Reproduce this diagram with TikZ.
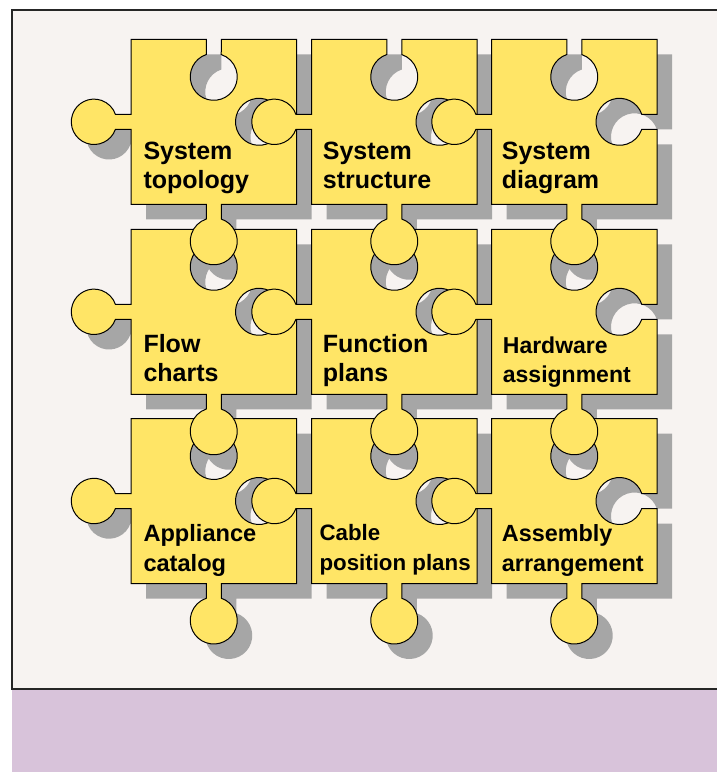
\documentclass[tikz,border=0pt]{standalone}
\usepackage{fontspec}
\setmainfont{Liberation Sans}
\definecolor{pieceY}{HTML}{FFE566}
\definecolor{shadowG}{HTML}{A6A6A6}
\definecolor{panelBG}{HTML}{F7F3F1}
\definecolor{stripL}{HTML}{D8C3DA}
\newcommand{\jigpath}{(0,0) -- (75.25,0) -- (75.25,-15.229)
  arc[start angle=108.61, end angle=431.39, radius=23.5pt] -- (90.25,0) -- (165.5,0)
  -- (165.5,-75) -- (150.271,-75)
  arc[start angle=18.61, end angle=341.39, radius=23.5pt] -- (165.5,-90) -- (165.5,-165)
  -- (90.25,-165) -- (90.25,-179.729)
  arc[start angle=71.39, end angle=-251.39, radius=23.5pt] -- (75.25,-165) -- (0,-165)
  -- (0,-90) -- (-15.575,-90)
  arc[start angle=-19.29, end angle=-340.71, radius=22.7pt] -- (0,-75) -- cycle}
\tikzset{
  piecefill/.style={fill=pieceY, draw=black, line width=1pt, line join=miter},
  shadowfill/.style={fill=shadowG},
  lbl/.style={anchor=base west, inner sep=0pt, font=\bfseries\fontsize{#1}{29.5}\selectfont},
  frameline/.style={draw=black!85, line width=1.4pt}
}
\begin{document}
\begin{tikzpicture}[x=1pt,y=1pt]
\useasboundingbox (0,0) rectangle (717,-772);
\fill[white] (0,0) rectangle (717,-772);
\fill[panelBG] (12,-10) rectangle (717,-689);
\fill[stripL] (12,-689) rectangle (717,-772);
\draw[frameline] (717,-10) -- (12,-10) -- (12,-689) -- (717,-689);
% shadows
\foreach \px/\py in {131/39.3, 311.5/39.3, 491.5/39.3, 131/229.3, 311.5/229.3, 491.5/229.3, 131/418.5, 311.5/418.5, 491.5/418.5}{
  \fill[shadowfill, shift={(\px+15,-\py-15)}] \jigpath;
}
% pieces: bottom row first, left to right
\foreach \py in {418.5, 229.3, 39.3}{
  \foreach \px in {131, 311.5, 491.5}{
    \filldraw[piecefill, shift={(\px,-\py)}] \jigpath;
  }
}
% labels
\node[lbl=25] (t1) at (143.3,-159.3) {\vtop{\hbox{System}\hbox{topology}}};
\node[lbl=25] (t2) at (322.7,-159.3) {\vtop{\hbox{System}\hbox{structure}}};
\node[lbl=25] (t3) at (501.7,-159.3) {\vtop{\hbox{System}\hbox{diagram}}};
\node[lbl=25] (t4) at (143.3,-352.3) {\vtop{\hbox{Flow}\hbox{charts}}};
\node[lbl=25] (t5) at (322.7,-352.3) {\vtop{\hbox{Function}\hbox{plans}}};
\node[lbl=23] (t6) at (502.7,-353.3) {\vtop{\hbox{Hardware}\hbox{assignment}}};
\node[lbl=23.6] (t7) at (143.3,-541.7) {\vtop{\hbox{Appliance}\hbox{catalog}}};
\node[lbl=22.3] (t8) at (319.3,-540.7) {\vtop{\hbox{Cable}\hbox{position plans}}};
\node[lbl=23.4] (t9) at (501.7,-541.7) {\vtop{\hbox{Assembly}\hbox{arrangement}}};
\end{tikzpicture}
\end{document}
